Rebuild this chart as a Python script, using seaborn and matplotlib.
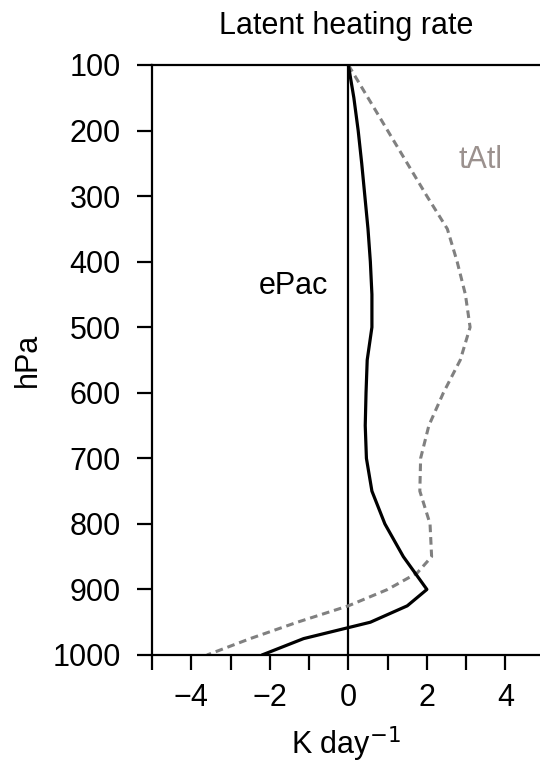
import numpy as np
import pandas as pd
import seaborn as sns
import matplotlib.pyplot as plt
from matplotlib.ticker import MultipleLocator

# pressure levels (hPa) and latent heating profiles (K/day)
levels = [100, 150, 200, 250, 300, 350, 400, 450, 500, 550, 600, 650,
          700, 750, 800, 850, 875, 900, 925, 950, 975, 1000]
epac = [0.0, 0.14, 0.25, 0.34, 0.42, 0.5, 0.56, 0.6, 0.6, 0.48, 0.45, 0.43,
        0.46, 0.6, 0.93, 1.4, 1.7, 2.0, 1.5, 0.56, -1.14, -2.2]
tatl = [0.0, 0.5, 1.0, 1.5, 2.0, 2.52, 2.77, 2.98, 3.1, 2.85, 2.42, 2.05,
        1.84, 1.82, 2.08, 2.12, 1.75, 1.0, 0.0, -1.3, -2.5, -3.6]
y_ticks = [100, 200, 300, 400, 500, 600, 700, 800, 900, 1000]

sns.set_style("ticks")
plt.rcParams['font.family'] = ['Liberation Sans', 'DejaVu Sans']
plt.rcParams['text.color'] = 'black'
plt.rcParams['axes.labelcolor'] = 'black'

df = pd.DataFrame({"p": levels, "ePac": epac, "tAtl": tatl})

fig = plt.figure(figsize=(5.4, 7.64), dpi=100)
ax = fig.add_axes([152 / 540, 1 - 655 / 764, 1 - 152 / 540, (655 - 65) / 764])

ax.axvline(0, color="black", lw=1.6, zorder=1)
sns.lineplot(data=df, x="tAtl", y="p", sort=False, estimator=None, ax=ax,
             color="#808080", lw=2.2, linestyle=(0, (2.5, 1.6)))
sns.lineplot(data=df, x="ePac", y="p", sort=False, estimator=None, ax=ax,
             color="black", lw=2.3)

ax.set_xlim(-5, 4.88)
ax.set_ylim(1000, 100)
ax.set_yticks(y_ticks)
ax.xaxis.set_major_locator(MultipleLocator(2))
ax.xaxis.set_minor_locator(MultipleLocator(1))
ax.set_xticks([-4, -2, 0, 2, 4])
ax.set_xticklabels(["\u22124", "\u22122", "0", "2", "4"])

ax.tick_params(axis="both", which="both", direction="out", length=10.5,
               width=1.6, labelsize=22, colors="black")
ax.tick_params(axis="y", pad=12)
ax.tick_params(axis="x", pad=10)
ax.spines["right"].set_visible(False)
for s in ["left", "top", "bottom"]:
    ax.spines[s].set_linewidth(1.6)
    ax.spines[s].set_color("black")

ax.set_xlabel("K day$^{-1}$", fontsize=22, labelpad=8)
ax.set_ylabel("hPa", fontsize=22, labelpad=7)
ax.set_title("Latent heating rate", fontsize=22, pad=22)

ax.text(-1.4, 437, "ePac", fontsize=22, color="black", ha="center", va="center")
ax.text(3.36, 245, "tAtl", fontsize=22, color="#9b918e", ha="center", va="center")

fig.savefig("out.png", dpi=100)
